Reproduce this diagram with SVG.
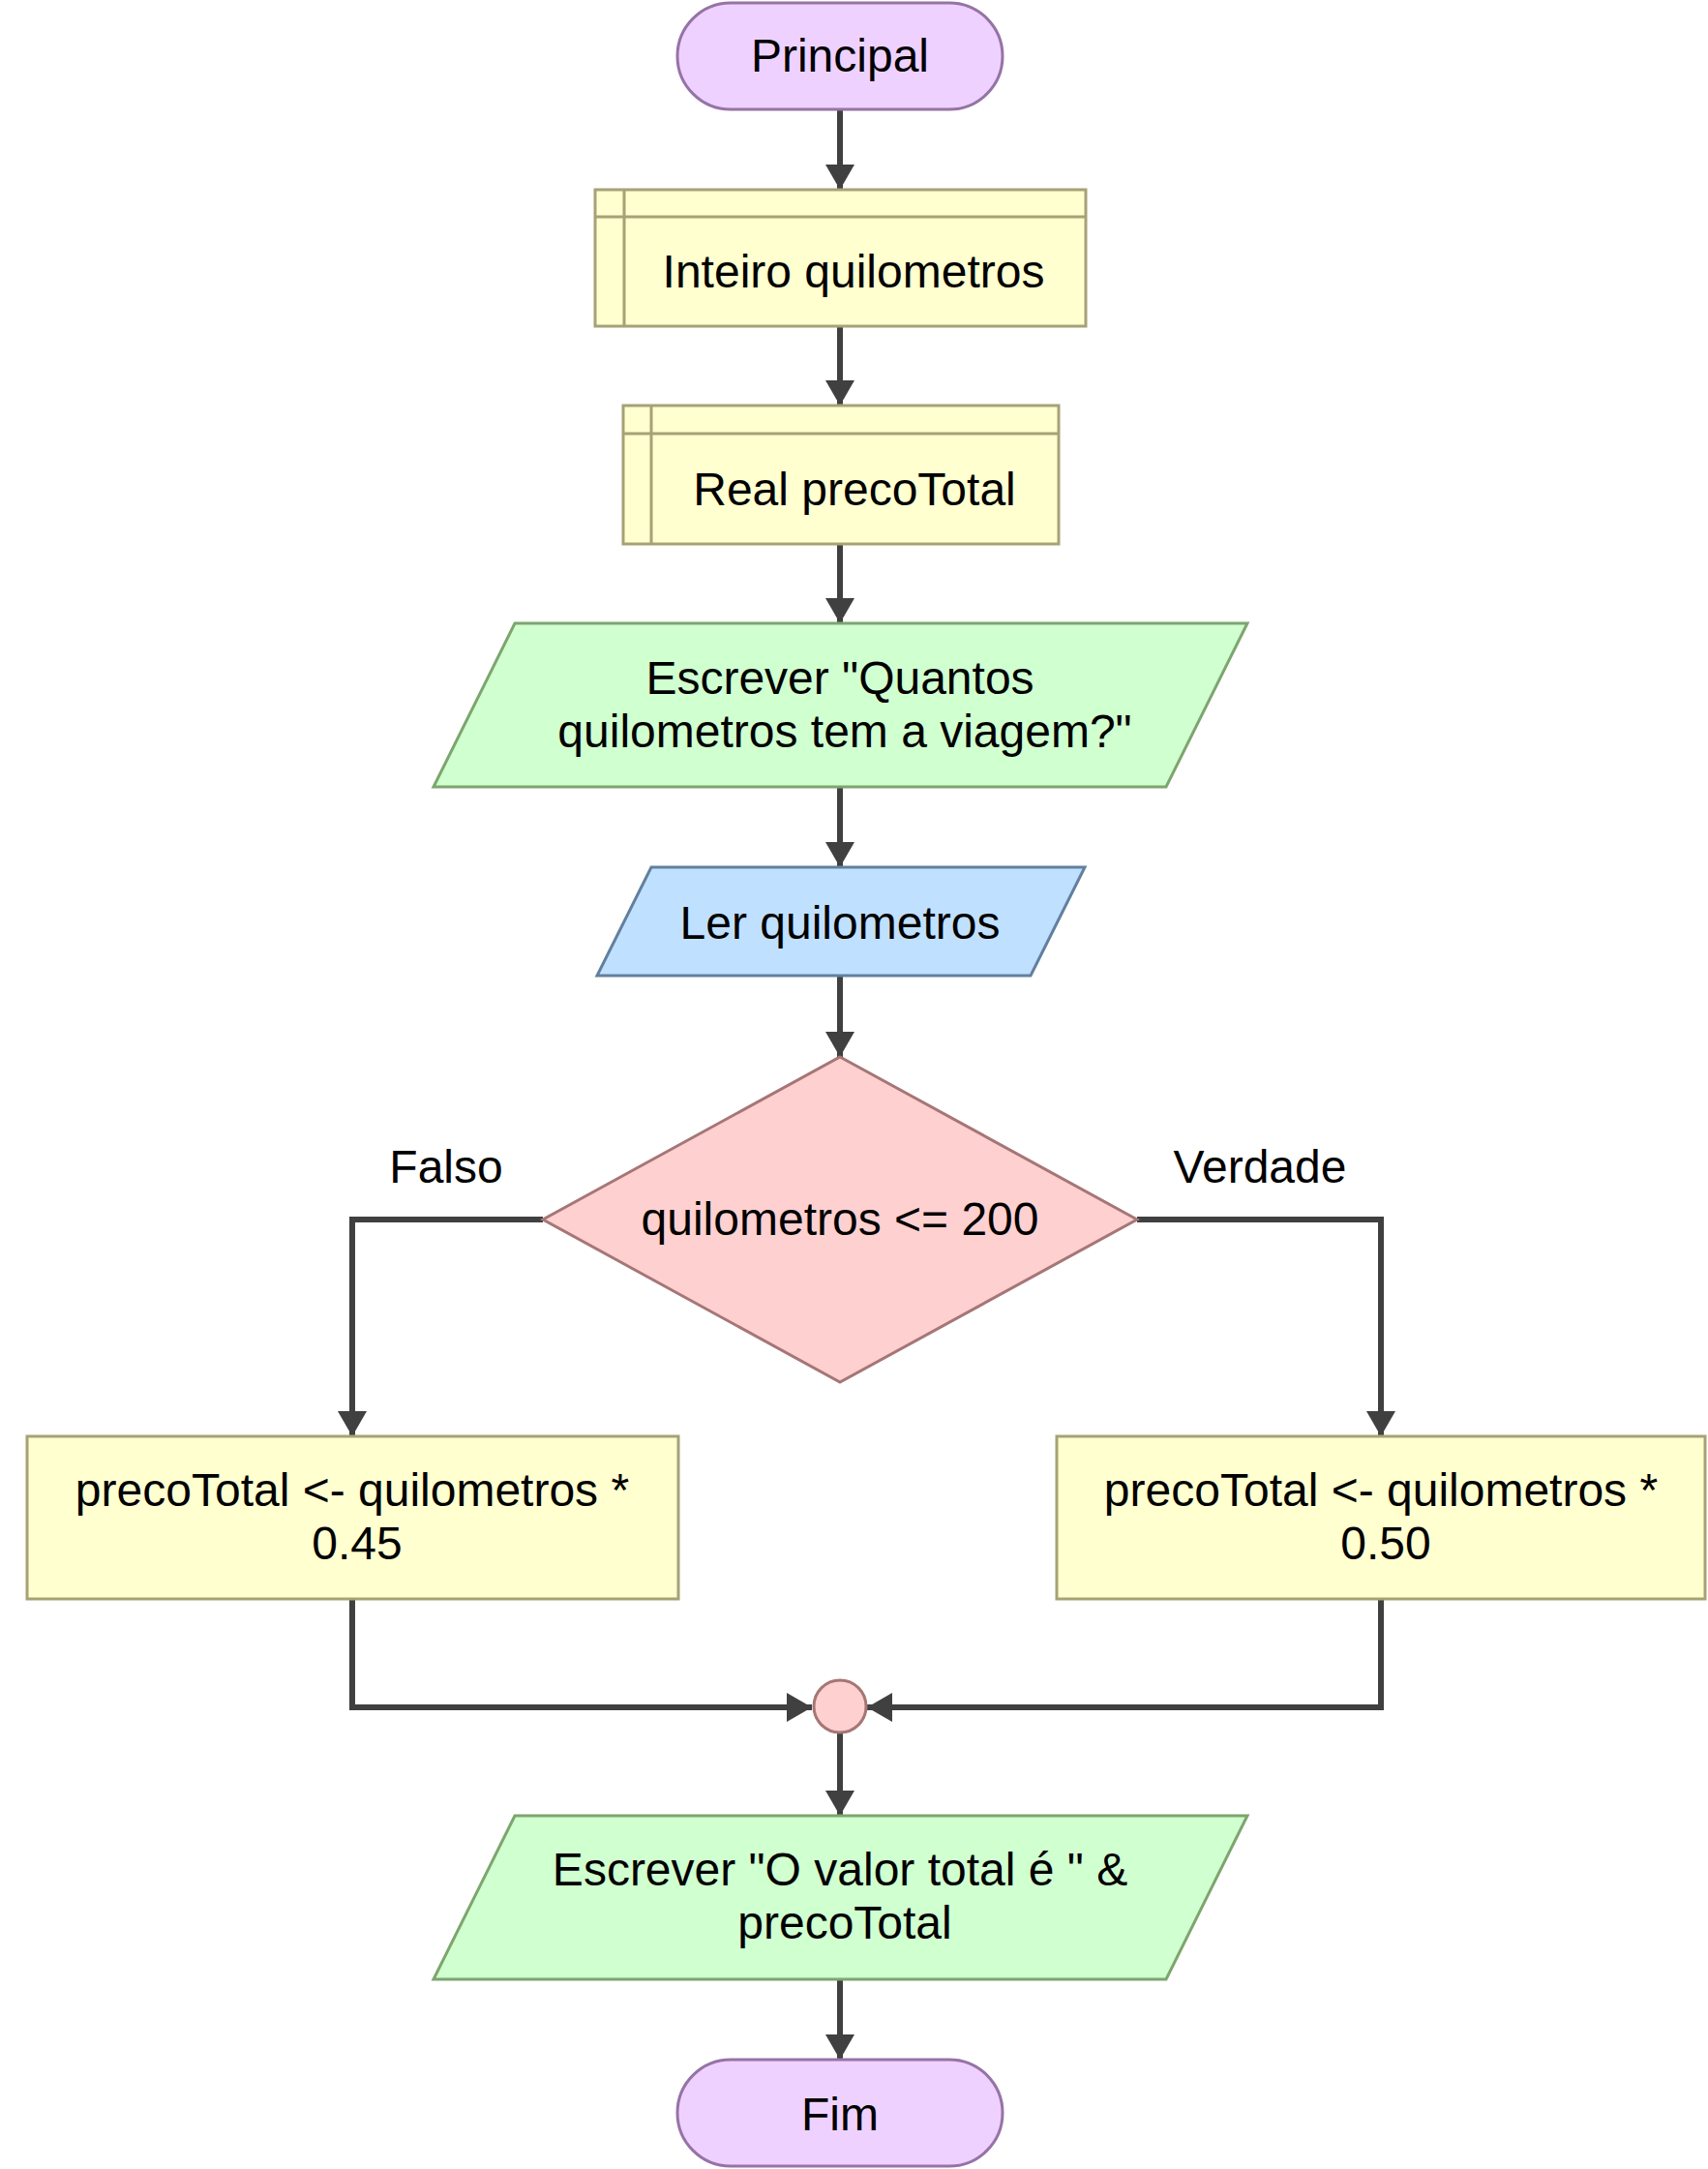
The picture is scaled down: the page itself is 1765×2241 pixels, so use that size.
<svg xmlns="http://www.w3.org/2000/svg" width="1765" height="2241" viewBox="0 0 1765 2241">
<style>
text{font-family:"Liberation Sans",Arial,sans-serif;font-size:48px;fill:#000;text-anchor:middle}
.term{fill:#efd1ff;stroke:#9673a6;stroke-width:3}
.decl{fill:#ffffd0;stroke:#a6a276;stroke-width:3}
.out{fill:#d0ffd0;stroke:#7da56e;stroke-width:3}
.in{fill:#c0e0ff;stroke:#62809e;stroke-width:3}
.dec{fill:#ffd0d0;stroke:#a67676;stroke-width:3}
.conn{fill:none;stroke:#404040;stroke-width:6;marker-end:url(#arr)}
</style>
<defs>
<marker id="arr" markerUnits="userSpaceOnUse" markerWidth="26" markerHeight="30" refX="26" refY="15" orient="auto">
<path d="M0,0 L26,15 L0,30 z" fill="#404040"/>
</marker>
</defs>
<rect width="1765" height="2241" fill="#fff"/>
<g id="connectors">
<path class="conn" d="M868,113 V196"/>
<path class="conn" d="M868,337 V419"/>
<path class="conn" d="M868,562 V644"/>
<path class="conn" d="M868,813 V896"/>
<path class="conn" d="M868,1008 V1092"/>
<path class="conn" d="M561,1260 H364 V1484"/>
<path class="conn" d="M1175,1260 H1427 V1484"/>
<path class="conn" d="M364,1652 V1764 H839"/>
<path class="conn" d="M1427,1652 V1764 H896"/>
<path class="conn" d="M868,1791 V1876"/>
<path class="conn" d="M868,2045 V2128"/>
<text x="461" y="1222">Falso</text>
<text x="1302" y="1222">Verdade</text>
</g>
<g id="principal">
<rect class="term" x="700" y="3" width="336" height="110" rx="55"/>
<text x="868" y="74">Principal</text>
</g>
<g id="inteiro">
<rect class="decl" x="615" y="196" width="507" height="141"/>
<path class="decl" d="M645,196 V337 M615,224 H1122" fill="none"/>
<text x="882" y="297">Inteiro quilometros</text>
</g>
<g id="real">
<rect class="decl" x="644" y="419" width="450" height="143"/>
<path class="decl" d="M673,419 V562 M644,448 H1094" fill="none"/>
<text x="883" y="522">Real precoTotal</text>
</g>
<g id="escrever1">
<polygon class="out" points="532,644 1289,644 1205,813 448,813"/>
<text x="868" y="717">Escrever "Quantos</text>
<text x="873" y="772">quilometros tem a viagem?"</text>
</g>
<g id="ler">
<polygon class="in" points="673,896 1121,896 1065,1008 617,1008"/>
<text x="868" y="970">Ler quilometros</text>
</g>
<g id="decisao">
<polygon class="dec" points="868,1092 1175,1260 868,1428 561,1260"/>
<text x="868" y="1276">quilometros &lt;= 200</text>
</g>
<g id="falso">
<rect class="decl" x="28" y="1484" width="673" height="168"/>
<text x="364" y="1556">precoTotal &lt;- quilometros *</text>
<text x="369" y="1611">0.45</text>
</g>
<g id="verdade">
<rect class="decl" x="1092" y="1484" width="670" height="168"/>
<text x="1427" y="1556">precoTotal &lt;- quilometros *</text>
<text x="1432" y="1611">0.50</text>
</g>
<g id="juncao">
<circle class="dec" cx="868" cy="1763" r="27"/>
</g>
<g id="escrever2">
<polygon class="out" points="532,1876 1289,1876 1205,2045 448,2045"/>
<text x="868" y="1948">Escrever "O valor total é " &amp;</text>
<text x="873" y="2003">precoTotal</text>
</g>
<g id="fim">
<rect class="term" x="700" y="2128" width="336" height="110" rx="55"/>
<text x="868" y="2201">Fim</text>
</g>
</svg>
